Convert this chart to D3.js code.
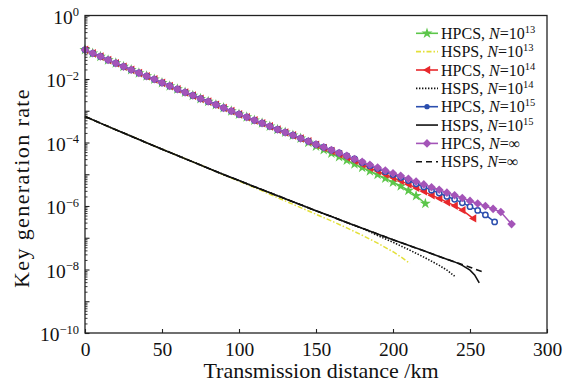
<!DOCTYPE html>
<html>
<head>
<meta charset="utf-8">
<script src="https://cdn.jsdelivr.net/npm/d3@7"></script>
<style>
  body { margin: 0; background: #fff; }
  svg { display: block; }
</style>
</head>
<body>
<script>
// ---- data (distance in km, key rate stored as log10 values) ----
const kmSteps = [0,5,10,15,20,25,30,35,40,45,50,55,60,65,70,75,80,85,90,95,100,
  105,110,115,120,125,130,135,140,145,150,155,160,165,170,175,180,185,190,195,200,
  205,210,215,220,225,230,235,240,245,250,255,260,265,270];

const hpcs13Km = kmSteps.slice(0, 44).concat([221]);
const hpcs13Log = [-1.08,-1.19,-1.29,-1.40,-1.50,-1.61,-1.71,-1.81,-1.91,-2.01,-2.12,-2.22,
  -2.32,-2.42,-2.52,-2.62,-2.71,-2.81,-2.91,-3.01,-3.11,-3.20,-3.30,-3.39,-3.49,-3.59,-3.68,
  -3.77,-3.87,-4.00,-4.12,-4.23,-4.34,-4.45,-4.56,-4.68,-4.79,-4.90,-5.01,-5.13,-5.25,-5.37,
  -5.51,-5.68,-5.92];

const hpcs14Km = kmSteps.slice(0, 50).concat([252]);
const hpcs14Log = [-1.08,-1.19,-1.29,-1.40,-1.50,-1.61,-1.71,-1.81,-1.91,-2.01,-2.12,-2.22,
  -2.32,-2.42,-2.52,-2.62,-2.71,-2.81,-2.91,-3.01,-3.11,-3.20,-3.30,-3.39,-3.49,-3.59,-3.68,
  -3.77,-3.87,-3.96,-4.07,-4.17,-4.27,-4.37,-4.47,-4.58,-4.69,-4.80,-4.90,-5.01,-5.11,-5.21,
  -5.32,-5.43,-5.54,-5.66,-5.76,-5.88,-5.99,-6.13,-6.39];

const hpcs15Km = kmSteps.slice(0, 53).concat([266]);
const hpcs15Log = [-1.08,-1.19,-1.29,-1.40,-1.50,-1.61,-1.71,-1.81,-1.91,-2.01,-2.12,-2.22,
  -2.32,-2.42,-2.52,-2.62,-2.71,-2.81,-2.91,-3.01,-3.11,-3.20,-3.30,-3.39,-3.49,-3.59,-3.68,
  -3.77,-3.87,-3.96,-4.06,-4.15,-4.24,-4.33,-4.42,-4.52,-4.63,-4.73,-4.82,-4.92,-5.01,-5.10,
  -5.20,-5.30,-5.40,-5.50,-5.59,-5.70,-5.79,-5.90,-6.02,-6.14,-6.28,-6.50];

const hpcsInfKm = kmSteps.concat([277]);
const hpcsInfLog = [-1.08,-1.19,-1.29,-1.40,-1.50,-1.61,-1.71,-1.81,-1.91,-2.01,-2.12,-2.22,
  -2.32,-2.42,-2.52,-2.62,-2.71,-2.81,-2.91,-3.01,-3.11,-3.20,-3.30,-3.39,-3.49,-3.59,-3.68,
  -3.77,-3.87,-3.96,-4.06,-4.15,-4.24,-4.33,-4.42,-4.52,-4.61,-4.70,-4.79,-4.88,-4.97,-5.05,
  -5.14,-5.23,-5.32,-5.41,-5.49,-5.58,-5.66,-5.75,-5.84,-5.92,-6.00,-6.09,-6.19,-6.57];

const hsps13Km = [0,10,20,30,40,50,60,70,80,90,100,110,120,130,140,150,160,170,180,190,200,205,211];
const hsps13Log = [-3.18,-3.39,-3.60,-3.80,-4.01,-4.21,-4.41,-4.61,-4.81,-5.02,-5.22,-5.42,
  -5.63,-5.84,-6.05,-6.26,-6.47,-6.69,-6.92,-7.17,-7.44,-7.60,-7.81];

const hsps14Km = [0,10,20,30,40,50,60,70,80,90,100,110,120,130,140,150,160,170,180,190,200,210,220,230,235,240];
const hsps14Log = [-3.18,-3.39,-3.60,-3.80,-4.01,-4.21,-4.41,-4.61,-4.81,-5.01,-5.20,-5.39,
  -5.58,-5.77,-5.96,-6.15,-6.33,-6.52,-6.70,-6.93,-7.14,-7.37,-7.61,-7.87,-8.02,-8.21];

const hsps15Km = [0,10,20,30,40,50,60,70,80,90,100,110,120,130,140,150,160,170,180,190,200,210,220,230,240,245,250,253,256];
const hsps15Log = [-3.18,-3.39,-3.60,-3.80,-4.01,-4.21,-4.41,-4.61,-4.81,-5.01,-5.20,-5.39,
  -5.58,-5.77,-5.96,-6.15,-6.33,-6.52,-6.70,-6.88,-7.06,-7.24,-7.41,-7.59,-7.76,-7.87,-8.02,-8.17,-8.42];

const hspsInfKm = [0,10,20,30,40,50,60,70,80,90,100,110,120,130,140,150,160,170,180,190,200,210,220,230,240,250,258];
const hspsInfLog = [-3.18,-3.39,-3.60,-3.80,-4.01,-4.21,-4.41,-4.61,-4.81,-5.01,-5.20,-5.39,
  -5.58,-5.77,-5.96,-6.15,-6.33,-6.52,-6.70,-6.88,-7.06,-7.24,-7.41,-7.59,-7.76,-7.93,-8.07];

const xTicks = [0,50,100,150,200,250,300];
const yDecades = [0,-1,-2,-3,-4,-5,-6,-7,-8,-9,-10];
const yLabelled = [0,-2,-4,-6,-8,-10];

const legendScheme = ["HPCS","HSPS","HPCS","HSPS","HPCS","HSPS","HPCS","HSPS"];
const legendN = ["13","13","14","14","15","15","∞","∞"];

// ---- layout ----
const width = 573, height = 383;
const margin = {top: 15.5, right: 26, bottom: 50, left: 85};

const x = d3.scaleLinear().domain([0, 300]).range([margin.left, width - margin.right]);
const y = d3.scaleLog().domain([1e-10, 1]).range([height - margin.bottom, margin.top]);

const svg = d3.select("body").append("svg")
  .attr("width", width).attr("height", height)
  .style("font-family", "'Liberation Serif', 'Times New Roman', serif");

const toPts = (km, lg) => km.map((k, i) => [k, Math.pow(10, lg[i])]);

const line = d3.line().x(d => x(d[0])).y(d => y(d[1]));

const markerPaths = {
  star: d3.symbol(d3.symbolStar, 38)(),
  tri: "M-4,0L3.2,-4.2L3.2,4.2Z",
  circle: d3.symbol(d3.symbolCircle, 22)(),
  diamond: "M0,-4.3L4.3,0L0,4.3L-4.3,0Z"
};

const hsps = [
  {pts: toPts(hsps13Km, hsps13Log), color: "#e3e03a", dash: "5,2,1.5,2", w: 1.5},
  {pts: toPts(hsps14Km, hsps14Log), color: "#111", dash: "1.4,1.6", w: 1.6},
  {pts: toPts(hspsInfKm, hspsInfLog), color: "#111", dash: "6,4", w: 1.6},
  {pts: toPts(hsps15Km, hsps15Log), color: "#111", dash: null, w: 1.6}
];

const hpcs = [
  {pts: toPts(hpcs13Km, hpcs13Log), color: "#5cc64a", marker: "star", fill: "#5cc64a"},
  {pts: toPts(hpcs14Km, hpcs14Log), color: "#e8282c", marker: "tri", fill: "#e8282c"},
  {pts: toPts(hpcs15Km, hpcs15Log), color: "#2b4eae", marker: "circle", fill: "#fff"},
  {pts: toPts(hpcsInfKm, hpcsInfLog), color: "#a454b8", marker: "diamond", fill: "#a454b8"}
];

// ---- axes ----
const xAxis = svg.append("g")
  .attr("transform", `translate(0,${height - margin.bottom})`)
  .call(d3.axisBottom(x).tickValues(xTicks).tickSize(-4).tickPadding(9).tickFormat(d3.format("d")));
xAxis.select(".domain").remove();
xAxis.selectAll("line").attr("stroke", "#222").attr("stroke-width", 1.1);
xAxis.selectAll("text").attr("font-size", 19.5).attr("fill", "#111")
  .attr("font-family", "'Liberation Serif', serif");

const minors = [];
yDecades.slice(1).forEach(e => { for (let m = 2; m <= 9; m++) minors.push(m * Math.pow(10, e)); });

const yMinor = svg.append("g")
  .attr("transform", `translate(${margin.left},0)`)
  .call(d3.axisLeft(y).tickValues(minors).tickSize(-2.5).tickFormat(""));
yMinor.select(".domain").remove();
yMinor.selectAll("line").attr("stroke", "#222").attr("stroke-width", 0.9);

const yAxis = svg.append("g")
  .attr("transform", `translate(${margin.left},0)`)
  .call(d3.axisLeft(y).tickValues(yDecades.map(e => Math.pow(10, e))).tickSize(-4.5).tickFormat(""));
yAxis.select(".domain").remove();
yAxis.selectAll("line").attr("stroke", "#222").attr("stroke-width", 1.1);

yAxis.selectAll(".tick").each(function(d) {
  const e = Math.round(Math.log10(d));
  if (!yLabelled.includes(e)) return;
  const t = d3.select(this).append("text")
    .attr("x", -6).attr("y", 7.5)
    .attr("text-anchor", "end").attr("fill", "#111")
    .attr("font-size", 19.5)
    .attr("font-family", "'Liberation Serif', serif");
  t.append("tspan").text("10");
  t.append("tspan").attr("dy", -7.5).attr("font-size", 12.5)
    .text(e === 0 ? "0" : "\u2212" + Math.abs(e));
});

// ---- curves ----
const plot = svg.append("g");

hsps.forEach(s => {
  plot.append("path")
    .attr("d", line(s.pts))
    .attr("fill", "none")
    .attr("stroke", s.color)
    .attr("stroke-width", s.w)
    .attr("stroke-dasharray", s.dash);
});

hpcs.forEach(s => {
  plot.append("path")
    .attr("d", line(s.pts))
    .attr("fill", "none")
    .attr("stroke", s.color)
    .attr("stroke-width", 1.5);
  plot.append("g").selectAll("path")
    .data(s.pts)
    .join("path")
      .attr("transform", d => `translate(${x(d[0])},${y(d[1])})`)
      .attr("d", markerPaths[s.marker])
      .attr("fill", s.fill)
      .attr("stroke", s.marker === "circle" ? s.color : "none")
      .attr("stroke-width", 1.5);
});

// frame
svg.append("rect")
  .attr("x", margin.left).attr("y", margin.top)
  .attr("width", width - margin.right - margin.left)
  .attr("height", height - margin.bottom - margin.top)
  .attr("fill", "none").attr("stroke", "#222").attr("stroke-width", 1.3);

// ---- legend ----
const legendStyles = [
  {color: "#5cc64a", marker: "star", fill: "#5cc64a"},
  {color: "#e3e03a", dash: "5,2,1.5,2"},
  {color: "#e8282c", marker: "tri", fill: "#e8282c"},
  {color: "#111", dash: "1.4,1.6"},
  {color: "#2b4eae", marker: "circle", fill: "#2b4eae"},
  {color: "#111"},
  {color: "#a454b8", marker: "diamond", fill: "#a454b8"},
  {color: "#111", dash: "6,4"}
];

const legend = svg.append("g");
legendScheme.forEach((name, i) => {
  const cy = 33.3 + i * 18.35;
  const st = legendStyles[i];
  const g = legend.append("g").attr("transform", `translate(416,${cy})`);
  g.append("line").attr("x1", 0).attr("x2", 22)
    .attr("stroke", st.color).attr("stroke-width", 1.6)
    .attr("stroke-dasharray", st.dash || null);
  if (st.marker) {
    g.append("path").attr("transform", "translate(11,0)")
      .attr("d", markerPaths[st.marker]).attr("fill", st.fill);
  }
  const t = g.append("text").attr("x", 25).attr("y", 5.5)
    .attr("font-size", 16).attr("fill", "#111");
  t.append("tspan").text(name + ", ");
  t.append("tspan").attr("font-style", "italic").text("N");
  if (legendN[i] === "∞") {
    t.append("tspan").text("=\u221e");
  } else {
    t.append("tspan").text("=10");
    t.append("tspan").attr("dy", -6).attr("font-size", 10.5).text(legendN[i]);
  }
});

// ---- axis titles ----
svg.append("text")
  .attr("x", 321).attr("y", 378)
  .attr("text-anchor", "middle")
  .attr("font-size", 22).attr("fill", "#111")
  .text("Transmission distance /km");

svg.append("text")
  .attr("transform", "translate(29,188) rotate(-90)")
  .attr("text-anchor", "middle")
  .attr("font-size", 22).attr("fill", "#111")
  .attr("letter-spacing", 1.4)
  .text("Key generation rate");
</script>
</body>
</html>
